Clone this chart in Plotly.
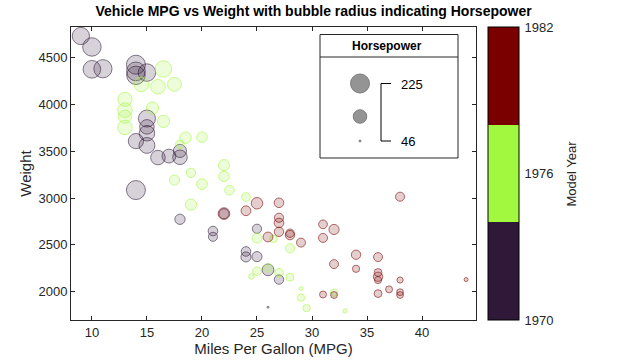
import numpy as np
import plotly.graph_objects as go

# ---- data (carsmall-like: model years 1970, 1976, 1982) ----
mpg_1970 = [18, 15, 18, 16, 17, 15, 14, 14, 14, 15, 15, 14, 15, 14, 24, 22, 18, 21, 27, 26, 25, 24, 25, 26, 21, 10, 10, 11, 9]
weight_1970 = [3504, 3693, 3436, 3433, 3449, 4341, 4354, 4312, 4425, 3850, 3563, 3609, 3761, 3086, 2372, 2833, 2774, 2587, 2130, 1835, 2672, 2430, 2375, 2234, 2648, 4615, 4376, 4382, 4732]
hp_1970 = [130, 165, 150, 150, 140, 198, 220, 215, 225, 190, 170, 160, 150, 225, 95, 95, 97, 85, 88, 46, 87, 90, 95, 113, 90, 215, 200, 210, 193]

mpg_1976 = [28, 25, 25, 26, 27, 17.5, 16, 15.5, 14.5, 22, 22, 24, 22.5, 29, 24.5, 29, 33, 20, 18, 18.5, 17.5, 29.5, 32, 28, 26.5, 20, 13, 19, 19, 16.5, 16.5, 13, 13, 13]
weight_1976 = [2464, 2220, 2572, 2255, 2202, 4215, 4190, 3962, 4215, 3233, 3353, 3012, 3085, 2035, 2164, 1937, 1795, 3651, 3574, 3645, 3193, 1825, 1990, 2155, 2565, 3150, 3940, 3270, 2930, 3820, 4380, 4055, 3870, 3755]
hp_1976 = [86, 81, 92, 79, 83, 140, 150, 120, 152, 100, 105, 81, 90, 52, 60, 70, 53, 100, 78, 110, 95, 71, 70, 75, 72, 102, 150, 88, 108, 120, 180, 145, 130, 150]

mpg_1982 = [28, 27, 34, 31, 29, 27, 24, 23, 36, 37, 31, 38, 36, 36, 36, 34, 38, 32, 38, 25, 38, 26, 22, 32, 36, 27, 27, 44, 32, 28, 31]
weight_1982 = [2605, 2640, 2395, 2575, 2525, 2735, 2865, 3035, 1980, 2025, 1970, 2125, 2125, 2160, 2205, 2245, 1965, 1965, 1995, 2945, 3015, 2585, 2835, 2665, 2370, 2950, 2790, 2130, 2295, 2625, 2720]
hp_1982 = [88, 88, 88, 85, 84, 90, 92, None, 74, 68, 68, 63, 70, 88, 75, 70, 67, 67, 67, 110, 85, 92, 112, 96, 84, 90, 86, 52, 84, 79, 82]

years = [1970, 1976, 1982]
year_colors = ["#2f1838", "#a2f83e", "#7a0000"]
colorbar_ticks = [1970, 1976, 1982]

groups = [(mpg_1970, weight_1970, hp_1970), (mpg_1976, weight_1976, hp_1976), (mpg_1982, weight_1982, hp_1982)]

all_hp = [h for g in groups for h in g[2] if h is not None]
hp_min, hp_max = min(all_hp), max(all_hp)
D_MIN, D_MAX = 2.0, 19.0


def diam(h):
    h = np.asarray(h, dtype=float)
    frac = (h - hp_min) / (hp_max - hp_min)
    return np.sqrt(D_MIN ** 2 + frac * (D_MAX ** 2 - D_MIN ** 2))


def rgba(hexc, a):
    hexc = hexc.lstrip("#")
    r, g, b = int(hexc[0:2], 16), int(hexc[2:4], 16), int(hexc[4:6], 16)
    return f"rgba({r},{g},{b},{a})"


fig = go.Figure()

for (mpg, wt, hp), yr, col in zip(groups, years, year_colors):
    keep = [i for i, h in enumerate(hp) if h is not None]
    xs = [mpg[i] for i in keep]
    ys = [wt[i] for i in keep]
    hs = [hp[i] for i in keep]
    fig.add_trace(go.Scatter(
        x=xs, y=ys, mode="markers", showlegend=False, hoverinfo="skip",
        marker=dict(size=diam(hs), sizemode="diameter",
                    color=rgba(col, 0.27),
                    line=dict(color=rgba(col, 0.85), width=1)),
    ))

# colorbar (discrete 3-colour map)
cs = []
n = len(year_colors)
for i, c in enumerate(year_colors):
    cs.append([i / n, c])
    cs.append([(i + 1) / n, c])
fig.add_trace(go.Scatter(
    x=[None], y=[None], mode="markers", showlegend=False, hoverinfo="skip",
    marker=dict(color=[1970], colorscale=cs, cmin=1970, cmax=1982, showscale=True,
                colorbar=dict(x=1.0296, xanchor="left", xref="paper", y=0.5, yanchor="middle",
                              len=1, lenmode="fraction", thickness=31, xpad=0, ypad=0,
                              outlinewidth=1, outlinecolor="black",
                              tickvals=colorbar_ticks, ticks="outside", ticklen=3,
                              tickcolor="rgba(0,0,0,0)",
                              tickfont=dict(size=13, color="#262626"),
                              title=dict(text="")))
))

# bubble-size legend, drawn on pixel-space overlay axes
leg_vals = [hp_max, (hp_max + hp_min) / 2, hp_min]
leg_px_x = [360, 360, 360]
leg_px_y = [83.5, 116.5, 141]
fig.add_trace(go.Scatter(
    x=leg_px_x, y=leg_px_y, xaxis="x2", yaxis="y2", mode="markers",
    showlegend=False, hoverinfo="skip",
    marker=dict(size=diam(leg_vals), sizemode="diameter", color="rgba(95,95,95,0.95)",
                line=dict(color="rgba(70,70,70,1)", width=1)),
))

L, R, T, B = 71, 476, 27, 320

shapes = [
    dict(type="rect", xref="x2", yref="y2", x0=320, x1=458, y0=34.5, y1=158,
         line=dict(color="#262626", width=1), fillcolor="white", layer="below"),
    dict(type="line", xref="x2", yref="y2", x0=320, x1=458, y0=57, y1=57,
         line=dict(color="#262626", width=1)),
    dict(type="line", xref="x2", yref="y2", x0=381, x1=381, y0=83.5, y1=141,
         line=dict(color="black", width=1)),
    dict(type="line", xref="x2", yref="y2", x0=381, x1=391, y0=83.5, y1=83.5,
         line=dict(color="black", width=1)),
    dict(type="line", xref="x2", yref="y2", x0=381, x1=391, y0=141, y1=141,
         line=dict(color="black", width=1)),
]

annotations = [
    dict(text="<b>Horsepower</b>", xref="x2", yref="y2", x=387, y=46, showarrow=False,
         xanchor="center", yanchor="middle", font=dict(size=12, color="black")),
    dict(text=str(int(leg_vals[0])), xref="x2", yref="y2", x=399, y=84, showarrow=False,
         xanchor="left", yanchor="middle", font=dict(size=13, color="black")),
    dict(text=str(int(leg_vals[2])), xref="x2", yref="y2", x=399, y=141, showarrow=False,
         xanchor="left", yanchor="middle", font=dict(size=13, color="black")),
    dict(text="Model Year", xref="paper", yref="paper", x=(571 - L) / (R - L), y=0.5,
         showarrow=False, textangle=-90, xanchor="center", yanchor="middle",
         font=dict(size=13, color="#262626")),
]

axis_common = dict(showgrid=False, zeroline=False, showline=True, linecolor="#262626",
                   linewidth=1, mirror="ticks", ticks="inside", ticklen=4, automargin=False,
                   tickcolor="#262626", tickfont=dict(size=13, color="#262626"))

fig.update_layout(
    width=640, height=360,
    margin=dict(l=L, r=640 - R, t=T, b=360 - B, pad=0, autoexpand=False),
    paper_bgcolor="white", plot_bgcolor="white",
    font=dict(family="Liberation Sans, Arial, sans-serif", color="#262626"),
    title=dict(text="<b>Vehicle MPG vs Weight with bubble radius indicating Horsepower</b>",
               xref="container", x=0.49, xanchor="center",
               yref="container", y=1 - 11 / 360, yanchor="middle",
               font=dict(size=14, color="black")),
    xaxis=dict(range=[8.1, 44.9], tickvals=[10, 15, 20, 25, 30, 35, 40],
               title=dict(text="Miles Per Gallon (MPG)", font=dict(size=15, color="#262626"), standoff=4),
               **axis_common),
    yaxis=dict(range=[1698, 4828], tickvals=[2000, 2500, 3000, 3500, 4000, 4500],
               title=dict(text="Weight", font=dict(size=15, color="#262626"), standoff=3),
               **axis_common),
    xaxis2=dict(overlaying="x", range=[L, R], visible=False, fixedrange=True),
    yaxis2=dict(overlaying="y", range=[B, T], visible=False, fixedrange=True),
    shapes=shapes,
    annotations=annotations,
)

fig.write_html("out.html", config={"displayModeBar": False},
               post_script="document.body.style.margin='0';")
